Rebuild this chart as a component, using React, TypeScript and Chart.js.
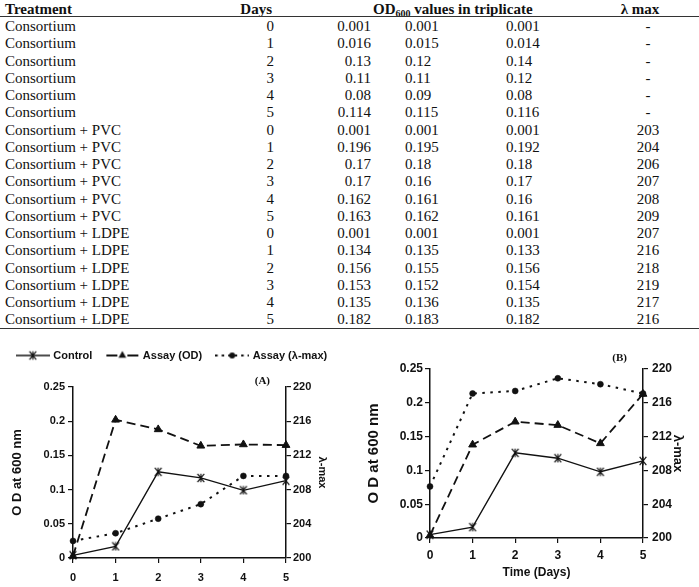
import React, { useEffect, useRef } from 'react';
import { Chart, registerables } from 'chart.js';

Chart.register(...registerables);

const INK = '#111111';
const SANS = '"Liberation Sans", Arial, Helvetica, sans-serif';
const SERIF = '"Liberation Serif", "Times New Roman", Times, serif';

// ---------------- table data ----------------
const treatments = [
  'Consortium', 'Consortium', 'Consortium', 'Consortium', 'Consortium', 'Consortium',
  'Consortium + PVC', 'Consortium + PVC', 'Consortium + PVC', 'Consortium + PVC', 'Consortium + PVC', 'Consortium + PVC',
  'Consortium + LDPE', 'Consortium + LDPE', 'Consortium + LDPE', 'Consortium + LDPE', 'Consortium + LDPE', 'Consortium + LDPE',
];
const tableDays = ['0', '1', '2', '3', '4', '5', '0', '1', '2', '3', '4', '5', '0', '1', '2', '3', '4', '5'];
const odRep1 = ['0.001', '0.016', '0.13', '0.11', '0.08', '0.114', '0.001', '0.196', '0.17', '0.17', '0.162', '0.163', '0.001', '0.134', '0.156', '0.153', '0.135', '0.182'];
const odRep2 = ['0.001', '0.015', '0.12', '0.11', '0.09', '0.115', '0.001', '0.195', '0.18', '0.16', '0.161', '0.162', '0.001', '0.135', '0.155', '0.152', '0.136', '0.183'];
const odRep3 = ['0.001', '0.014', '0.14', '0.12', '0.08', '0.116', '0.001', '0.192', '0.18', '0.17', '0.16', '0.161', '0.001', '0.133', '0.156', '0.154', '0.135', '0.182'];
const lambdaMax = ['-', '-', '-', '-', '-', '-', '203', '204', '206', '207', '208', '209', '207', '216', '218', '219', '217', '216'];

// ---------------- chart data ----------------
const dayLabels = ['0', '1', '2', '3', '4', '5'];
const seriesNames = ['Control', 'Assay (OD)', 'Assay (λ-max)'];
const controlA = [0.004, 0.017, 0.126, 0.117, 0.099, 0.113];
const assayOdA = [0.003, 0.202, 0.188, 0.164, 0.166, 0.165];
const assayLambdaA = [202.0, 202.9, 204.6, 206.3, 209.6, 209.6];
const controlB = [0.005, 0.016, 0.126, 0.118, 0.098, 0.114];
const assayOdB = [0.004, 0.138, 0.172, 0.167, 0.14, 0.213];
const assayLambdaB = [206.1, 217.1, 217.4, 218.9, 218.2, 217.1];
const odAxis = { min: 0, max: 0.25, step: 0.05 };
const lambdaAxis = { min: 200, max: 220, step: 4 };

// ---------------- markers ----------------
function drawStar(ctx: CanvasRenderingContext2D, cx: number, cy: number, r: number) {
  ctx.beginPath();
  ctx.moveTo(cx - r * 0.8, cy - r);
  ctx.lineTo(cx + r * 0.8, cy + r);
  ctx.moveTo(cx + r * 0.8, cy - r);
  ctx.lineTo(cx - r * 0.8, cy + r);
  ctx.moveTo(cx, cy - r);
  ctx.lineTo(cx, cy + r);
  ctx.stroke();
}

function makeStar() {
  const c = document.createElement('canvas');
  c.width = 10;
  c.height = 10;
  const ctx = c.getContext('2d')!;
  ctx.strokeStyle = INK;
  ctx.lineWidth = 1.2;
  drawStar(ctx, 5, 5, 4.2);
  return c;
}

function legendSample(kind: string) {
  const c = document.createElement('canvas');
  c.width = 34;
  c.height = 12;
  const ctx = c.getContext('2d')!;
  ctx.strokeStyle = INK;
  ctx.fillStyle = INK;
  const cx = 17;
  const cy = 6;
  if (kind === 'control') {
    ctx.lineWidth = 1.5;
    ctx.beginPath();
    ctx.moveTo(0, cy);
    ctx.lineTo(34, cy);
    ctx.stroke();
    ctx.lineWidth = 1.2;
    drawStar(ctx, cx, cy, 4.2);
  } else if (kind === 'od') {
    ctx.lineWidth = 2;
    ctx.beginPath();
    ctx.moveTo(1, cy);
    ctx.lineTo(12, cy);
    ctx.moveTo(22, cy);
    ctx.lineTo(33, cy);
    ctx.stroke();
    const r = 4.5;
    ctx.beginPath();
    ctx.moveTo(cx, cy - r);
    ctx.lineTo(cx + 0.866 * r, cy + 0.5 * r);
    ctx.lineTo(cx - 0.866 * r, cy + 0.5 * r);
    ctx.closePath();
    ctx.fill();
  } else {
    ctx.lineWidth = 2;
    ctx.setLineDash([2.5, 4]);
    ctx.beginPath();
    ctx.moveTo(0, cy);
    ctx.lineTo(34, cy);
    ctx.stroke();
    ctx.setLineDash([]);
    ctx.beginPath();
    ctx.arc(cx, cy, 3, 0, Math.PI * 2);
    ctx.fill();
  }
  return c;
}

// shifts the panel tag "(A)"/"(B)" a little to the left of the right axis
const tagShift = {
  id: 'tagShift',
  afterLayout(chart: any, _args: any, opts: any) {
    for (const b of chart.boxes as any[]) {
      if (b && b.options && b.options.text === opts.text && !b.fullSize) {
        b.right = chart.chartArea.right - opts.inset;
      }
    }
  },
};

type Spec = {
  tag: string;
  control: number[];
  od: number[];
  lambda: number[];
  legend: boolean;
  xTitle: string;
  tickSize: number;
  leftTitleSize: number;
  rightTitleSize: number;
  xTitleSize: number;
  leftWidth: number;
  rightWidth: number;
  xHeight: number;
  tagPad: { top: number; bottom: number };
  leftTitlePad: number;
  rightTitlePad: number;
  leftTickPad: number;
  rightTickPad: number;
  xTickPad: number;
  xTitlePad: number;
};

function buildConfig(s: Spec): any {
  const star = makeStar();
  const legendImgs = [legendSample('control'), legendSample('od'), legendSample('lambda')];
  const tickFont = { family: SANS, size: s.tickSize, weight: 'bold' };
  const gridOpts = {
    display: true,
    drawOnChartArea: false,
    drawTicks: true,
    tickLength: 5,
    color: INK,
    lineWidth: 1.2,
    offset: false,
  };
  const borderOpts = { display: true, color: INK, width: 1.5 };
  return {
    type: 'line',
    data: {
      labels: dayLabels,
      datasets: [
        {
          label: seriesNames[0],
          data: s.control,
          yAxisID: 'y',
          borderColor: INK,
          backgroundColor: INK,
          borderWidth: 1.3,
          pointStyle: star,
          pointRadius: 4.5,
          tension: 0,
          fill: false,
          clip: false,
        },
        {
          label: seriesNames[1],
          data: s.od,
          yAxisID: 'y',
          borderColor: INK,
          backgroundColor: INK,
          borderWidth: 1.8,
          borderDash: [9, 5],
          pointStyle: 'triangle',
          pointRadius: 4.5,
          pointBorderWidth: 1,
          pointBackgroundColor: INK,
          pointBorderColor: INK,
          tension: 0,
          fill: false,
          clip: false,
        },
        {
          label: seriesNames[2],
          data: s.lambda,
          yAxisID: 'y1',
          borderColor: INK,
          backgroundColor: INK,
          borderWidth: 2,
          borderDash: [2.5, 5.5],
          pointStyle: 'circle',
          pointRadius: 3,
          pointBorderWidth: 0.5,
          pointBackgroundColor: INK,
          pointBorderColor: INK,
          tension: 0,
          fill: false,
          clip: false,
        },
      ],
    },
    options: {
      responsive: false,
      maintainAspectRatio: false,
      animation: false,
      devicePixelRatio: 1,
      events: [],
      layout: { padding: { top: 0, left: 0, right: 0, bottom: 0 } },
      plugins: {
        legend: {
          display: s.legend,
          position: 'top',
          labels: {
            usePointStyle: true,
            pointStyleWidth: 30,
            padding: 15,
            color: INK,
            font: { family: SANS, size: 11, weight: 'bold' },
            generateLabels: (chart: any) =>
              chart.data.datasets.map((ds: any, i: number) => ({
                text: ds.label,
                pointStyle: legendImgs[i],
                fillStyle: INK,
                strokeStyle: INK,
                lineWidth: 0,
                hidden: false,
                datasetIndex: i,
                fontColor: INK,
              })),
          },
        },
        subtitle: {
          display: true,
          text: s.tag,
          position: 'top',
          align: 'end',
          fullSize: false,
          weight: 500,
          color: INK,
          font: { family: SERIF, size: 11, weight: 'bold', lineHeight: 1 },
          padding: s.tagPad,
        },
        title: { display: false },
        tooltip: { enabled: false },
        tagShift: { text: s.tag, inset: 16 },
      },
      scales: {
        x: {
          type: 'category',
          offset: false,
          grid: gridOpts,
          border: borderOpts,
          ticks: { color: INK, font: tickFont, padding: s.xTickPad, maxRotation: 0, autoSkip: false },
          title: {
            display: s.xTitle !== '',
            text: s.xTitle,
            color: INK,
            font: { family: SANS, size: s.xTitleSize, weight: 'bold' },
            padding: { top: 0, bottom: s.xTitlePad },
          },
          afterFit: (sc: any) => {
            sc.height = s.xHeight;
          },
        },
        y: {
          type: 'linear',
          position: 'left',
          min: odAxis.min,
          max: odAxis.max,
          grid: gridOpts,
          border: borderOpts,
          ticks: {
            stepSize: odAxis.step,
            color: INK,
            font: tickFont,
            padding: s.leftTickPad,
            callback: (v: any) => String(Number(Number(v).toFixed(2))),
          },
          title: {
            display: true,
            text: 'O D at 600 nm',
            color: INK,
            font: { family: SANS, size: s.leftTitleSize, weight: 'bold' },
            padding: { top: s.leftTitlePad, bottom: 0 },
          },
          afterFit: (sc: any) => {
            sc.width = s.leftWidth;
          },
        },
        y1: {
          type: 'linear',
          position: 'right',
          min: lambdaAxis.min,
          max: lambdaAxis.max,
          grid: gridOpts,
          border: borderOpts,
          ticks: { stepSize: lambdaAxis.step, color: INK, font: tickFont, padding: s.rightTickPad },
          title: {
            display: true,
            text: 'λ-max',
            color: INK,
            font: { family: SANS, size: s.rightTitleSize, weight: 'bold' },
            padding: { top: s.rightTitlePad, bottom: 0 },
          },
          afterFit: (sc: any) => {
            sc.width = s.rightWidth;
          },
        },
      },
    },
    plugins: [tagShift],
  };
}

const specA: Spec = {
  tag: '(A)',
  control: controlA,
  od: assayOdA,
  lambda: assayLambdaA,
  legend: true,
  xTitle: '',
  tickSize: 11,
  leftTitleSize: 13,
  rightTitleSize: 11,
  xTitleSize: 11,
  leftWidth: 73,
  rightWidth: 59,
  xHeight: 29,
  tagPad: { top: 5, bottom: 0 },
  leftTitlePad: 10,
  rightTitlePad: 16.4,
  leftTickPad: 3,
  rightTickPad: 2,
  xTickPad: 8,
  xTitlePad: 0,
};

const specB: Spec = {
  tag: '(B)',
  control: controlB,
  od: assayOdB,
  lambda: assayLambdaB,
  legend: false,
  xTitle: 'Time (Days)',
  tickSize: 12,
  leftTitleSize: 15,
  rightTitleSize: 13,
  xTitleSize: 12,
  leftWidth: 75,
  rightWidth: 56,
  xHeight: 49,
  tagPad: { top: 8, bottom: 5 },
  leftTitlePad: 9.5,
  rightTitlePad: 13.7,
  leftTickPad: 2,
  rightTickPad: 4,
  xTickPad: 5,
  xTitlePad: 7.3,
};

function Panel({ spec, left, top, width, height }: { spec: Spec; left: number; top: number; width: number; height: number }) {
  const ref = useRef<HTMLCanvasElement>(null);
  useEffect(() => {
    const chart = new Chart(ref.current as HTMLCanvasElement, buildConfig(spec));
    return () => chart.destroy();
  }, []);
  return (
    <canvas
      ref={ref}
      width={width}
      height={height}
      style={{ position: 'absolute', left, top, width, height, display: 'block' }}
    />
  );
}

// ---------------- table ----------------
const ROW_H = 17.25;
const FIRST_ROW_TOP = 18;

function Cell({ x, top, align, bold, children }: any) {
  const base: any = {
    position: 'absolute',
    top,
    height: ROW_H,
    lineHeight: ROW_H + 'px',
    whiteSpace: 'nowrap',
    fontWeight: bold ? 700 : 400,
  };
  let style: any;
  if (align === 'left') style = { ...base, left: x };
  else if (align === 'right') style = { ...base, left: x - 160, width: 160, textAlign: 'right' };
  else style = { ...base, left: x - 60, width: 120, textAlign: 'center' };
  return <div style={style}>{children}</div>;
}

function Table() {
  const headTop = 0.5;
  return (
    <>
      <Cell x={5} top={headTop} align="left" bold>Treatment</Cell>
      <Cell x={272} top={headTop} align="right" bold>Days</Cell>
      <Cell x={373} top={headTop} align="left" bold>
        OD
        <span style={{ fontSize: 10, position: 'relative', top: 3, lineHeight: 0 }}>600</span> values in triplicate
      </Cell>
      <Cell x={640} top={headTop} align="center" bold>λ max</Cell>
      <div style={{ position: 'absolute', left: 0, top: 15.5, width: 699, height: 1.5, background: '#333' }} />
      {treatments.map((t, i) => {
        const top = FIRST_ROW_TOP + i * ROW_H;
        return (
          <React.Fragment key={i}>
            <Cell x={5} top={top} align="left">{t}</Cell>
            <Cell x={274} top={top} align="right">{tableDays[i]}</Cell>
            <Cell x={371} top={top} align="right">{odRep1[i]}</Cell>
            <Cell x={405} top={top} align="left">{odRep2[i]}</Cell>
            <Cell x={506} top={top} align="left">{odRep3[i]}</Cell>
            <Cell x={648} top={top} align="center">{lambdaMax[i]}</Cell>
          </React.Fragment>
        );
      })}
      <div style={{ position: 'absolute', left: 0, top: 327.5, width: 699, height: 1.5, background: '#333' }} />
    </>
  );
}

export default function App() {
  return (
    <div
      style={{
        position: 'absolute',
        left: 0,
        top: 0,
        width: 699,
        height: 587,
        overflow: 'hidden',
        background: '#ffffff',
        color: INK,
        fontFamily: SERIF,
        fontSize: 15,
      }}
    >
      <Table />
      <Panel spec={specA} left={0} top={335} width={345} height={252} />
      <Panel spec={specB} left={355} top={345} width={344} height={242} />
    </div>
  );
}
